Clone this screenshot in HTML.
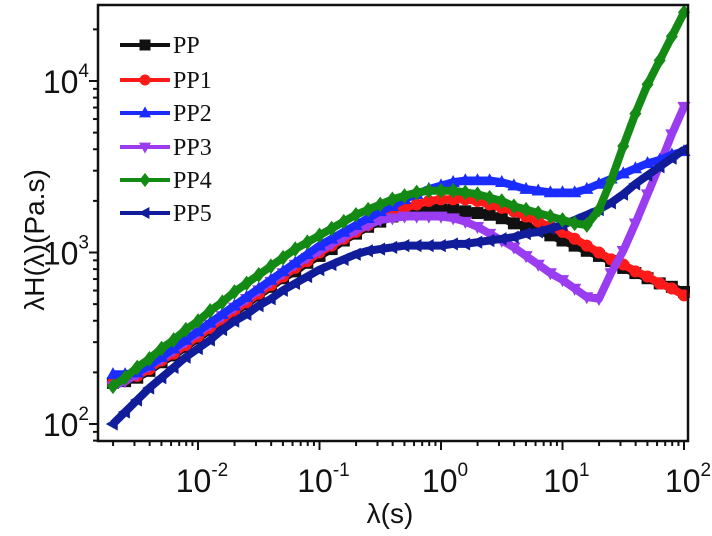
<!DOCTYPE html>
<html><head><meta charset="utf-8"><style>
html,body{margin:0;padding:0;background:#fff;}
svg{display:block;}
.tk{font-family:"Liberation Sans",Arial,sans-serif;font-size:32px;fill:#111;}
.sup{font-size:19px;}
.lg{font-family:"Liberation Serif","Times New Roman",serif;font-size:24px;fill:#111;}
</style></head><body>
<svg id="chart" width="712" height="536" viewBox="0 0 712 536" xmlns="http://www.w3.org/2000/svg">
<g id="axes"></g>
<g id="series"></g>
<rect x="98" y="5" width="590" height="436" fill="none" stroke="#111" stroke-width="2.5"/>
<text x="390" y="523" text-anchor="middle" class="tk" style="font-size:28px">λ(s)</text>
<text transform="translate(44,240) rotate(-90)" text-anchor="middle" class="tk" style="font-size:28px">λH(λ)(Pa.s)</text>
<g id="legend"></g>
</svg>
<script>
// x: log10(lambda) values
const lambdaExp = [-2.7,-2.6,-2.5,-2.4,-2.3,-2.2,-2.1,-2.0,-1.9,-1.8,-1.7,-1.6,-1.5,-1.4,-1.3,-1.2,-1.1,-1.0,-0.9,-0.8,-0.7,-0.6,-0.5,-0.4,-0.3,-0.2,-0.1,0.0,0.1,0.2,0.3,0.4,0.5,0.6,0.7,0.8,0.9,1.0,1.1,1.2,1.3,1.4,1.5,1.6,1.7,1.8,1.9,2.0];
// y: log10 of lambda*H(lambda) (Pa.s)
const ppLog  = [2.24,2.25,2.27,2.31,2.36,2.40,2.45,2.50,2.55,2.60,2.65,2.70,2.75,2.80,2.85,2.89,2.94,2.98,3.02,3.07,3.11,3.15,3.18,3.21,3.23,3.24,3.25,3.25,3.25,3.24,3.23,3.22,3.20,3.17,3.15,3.13,3.10,3.07,3.04,3.01,2.98,2.95,2.91,2.88,2.85,2.82,2.80,2.77];
const pp1Log = [2.24,2.26,2.28,2.32,2.37,2.41,2.46,2.51,2.56,2.61,2.66,2.71,2.76,2.81,2.86,2.91,2.95,3.00,3.04,3.08,3.12,3.16,3.20,3.23,3.26,3.28,3.30,3.31,3.31,3.31,3.30,3.28,3.26,3.24,3.21,3.18,3.15,3.12,3.08,3.04,3.00,2.96,2.93,2.89,2.86,2.82,2.79,2.75];
const pp2Log = [2.29,2.29,2.30,2.34,2.39,2.44,2.49,2.54,2.59,2.64,2.69,2.74,2.79,2.84,2.89,2.94,2.99,3.04,3.08,3.12,3.16,3.20,3.24,3.27,3.31,3.34,3.37,3.39,3.41,3.42,3.42,3.42,3.41,3.39,3.37,3.36,3.35,3.35,3.35,3.37,3.40,3.43,3.46,3.49,3.52,3.54,3.57,3.59];
const pp3Log = [2.22,2.25,2.29,2.34,2.38,2.43,2.48,2.53,2.58,2.63,2.68,2.73,2.78,2.83,2.88,2.93,2.97,3.01,3.05,3.09,3.13,3.16,3.19,3.20,3.21,3.21,3.21,3.21,3.20,3.18,3.15,3.11,3.07,3.03,2.98,2.93,2.88,2.84,2.79,2.74,2.73,2.88,3.01,3.17,3.34,3.51,3.69,3.85];
const pp4Log = [2.22,2.27,2.33,2.38,2.44,2.49,2.55,2.60,2.66,2.71,2.77,2.82,2.87,2.92,2.97,3.02,3.06,3.10,3.14,3.18,3.22,3.25,3.28,3.31,3.33,3.35,3.36,3.36,3.36,3.35,3.34,3.32,3.30,3.27,3.25,3.23,3.21,3.19,3.17,3.16,3.25,3.42,3.62,3.81,3.98,4.12,4.26,4.40];
const pp5Log = [2.00,2.07,2.14,2.21,2.27,2.33,2.39,2.44,2.49,2.55,2.60,2.64,2.69,2.73,2.78,2.82,2.86,2.90,2.93,2.96,2.99,3.01,3.02,3.03,3.04,3.04,3.04,3.04,3.05,3.05,3.06,3.07,3.08,3.09,3.11,3.12,3.14,3.16,3.19,3.22,3.25,3.29,3.34,3.40,3.45,3.50,3.55,3.60];
const seriesNames = ["PP","PP1","PP2","PP3","PP4","PP5"];
const xTickExp = [-2,-1,0,1,2];
const yTickExp = [2,3,4];

const NS="http://www.w3.org/2000/svg";
const sx = e => 198 + (e + 2) * 121.5;
const sy = e => 424 - (e - 2) * 171.5;
function mk(tag, attrs, parent){const el=document.createElementNS(NS,tag);for(const k in attrs)el.setAttribute(k,attrs[k]);parent.appendChild(el);return el;}

const axes=document.getElementById('axes');
for(let d=-3; d<2; d++){
  for(let m=1;m<=9;m++){
    const e=d+Math.log10(m);
    if(e<-2.72||e>2.001) continue;
    const major=(m===1);
    const t=mk('line',{x1:sx(e),x2:sx(e),y1:441,y2:441+(major?9:5),stroke:'#111','stroke-width':2},axes);
    
    
  }
}
{const t=mk('line',{x1:sx(2),x2:sx(2),y1:441,y2:450,stroke:'#111','stroke-width':2},axes);

}
xTickExp.forEach(e=>{
  const t=mk('text',{x:sx(e)+4,y:492,'text-anchor':'middle',class:'tk'},axes);
  
  
  t.innerHTML='10<tspan class="sup" dy="-16">'+e+'</tspan>';
});
for(let d=1; d<5; d++){
  for(let m=1;m<=9;m++){
    const e=d+Math.log10(m);
    if(e<1.9||e>4.44) continue;
    const major=(m===1);
    const t=mk('line',{x1:98-(major?9:5),x2:98,y1:sy(e),y2:sy(e),stroke:'#111','stroke-width':2},axes);
    
    
  }
}
yTickExp.forEach(e=>{
  const t=mk('text',{x:89,y:sy(e)+12,'text-anchor':'end',class:'tk'},axes);
  
  
  t.innerHTML='10<tspan class="sup" dy="-16">'+e+'</tspan>';
});

const colors=["#111111","#ff1a1a","#1a2cff","#9a3cf0","#138a13","#101c9a"];
const shapes=["square","circle","tri-up","tri-down","diamond","tri-left"];
function marker(g,shape,x,y,c,s){
  let el;
  if(shape==='square') el=mk('rect',{x:x-s,y:y-s,width:2*s,height:2*s,fill:c},g);
  else if(shape==='circle') el=mk('circle',{cx:x,cy:y,r:s,fill:c},g);
  else {
    let p;
    if(shape==='tri-up') p=[[x,y-s*1.2],[x-s*1.1,y+s*0.8],[x+s*1.1,y+s*0.8]];
    else if(shape==='tri-down') p=[[x,y+s*1.2],[x-s*1.1,y-s*0.8],[x+s*1.1,y-s*0.8]];
    else if(shape==='tri-left') p=[[x-s*1.2,y],[x+s*0.8,y-s*1.1],[x+s*0.8,y+s*1.1]];
    else p=[[x,y-s*1.3],[x+s,y],[x,y+s*1.3],[x-s,y]];
    el=mk('polygon',{points:p.map(q=>q.join(',')).join(' '),fill:c},g);
  }
  return el;
}
const allSeries=[ppLog,pp1Log,pp2Log,pp3Log,pp4Log,pp5Log];
const order=[0,1,3,2,5,4];
const sg=document.getElementById('series');
order.forEach(i=>{
  const vals=allSeries[i];
  const g=mk('g',{},sg);
  
  
  const pts=vals.map((v,k)=>sx(lambdaExp[k])+','+sy(v)).join(' ');
  const pl=mk('polyline',{points:pts,fill:'none',stroke:colors[i],'stroke-width':8,'stroke-linejoin':'round'},g);
  
  
  vals.forEach((v,k)=>{
    const m=marker(g,shapes[i],sx(lambdaExp[k]),sy(v),colors[i],6);
    
    
  });
});

const lg=document.getElementById('legend');
const rowsY=[45,80,113,147,180,213];
seriesNames.forEach((n,i)=>{
  const g=mk('g',{},lg);
  
  
  mk('line',{x1:120,x2:170,y1:rowsY[i],y2:rowsY[i],stroke:colors[i],'stroke-width':4},g);
  marker(g,shapes[i],145,rowsY[i],colors[i],5.5);
  const t=mk('text',{x:173,y:rowsY[i]+8,class:'lg'},g);
  t.textContent=n;
});
</script>
</body></html>
